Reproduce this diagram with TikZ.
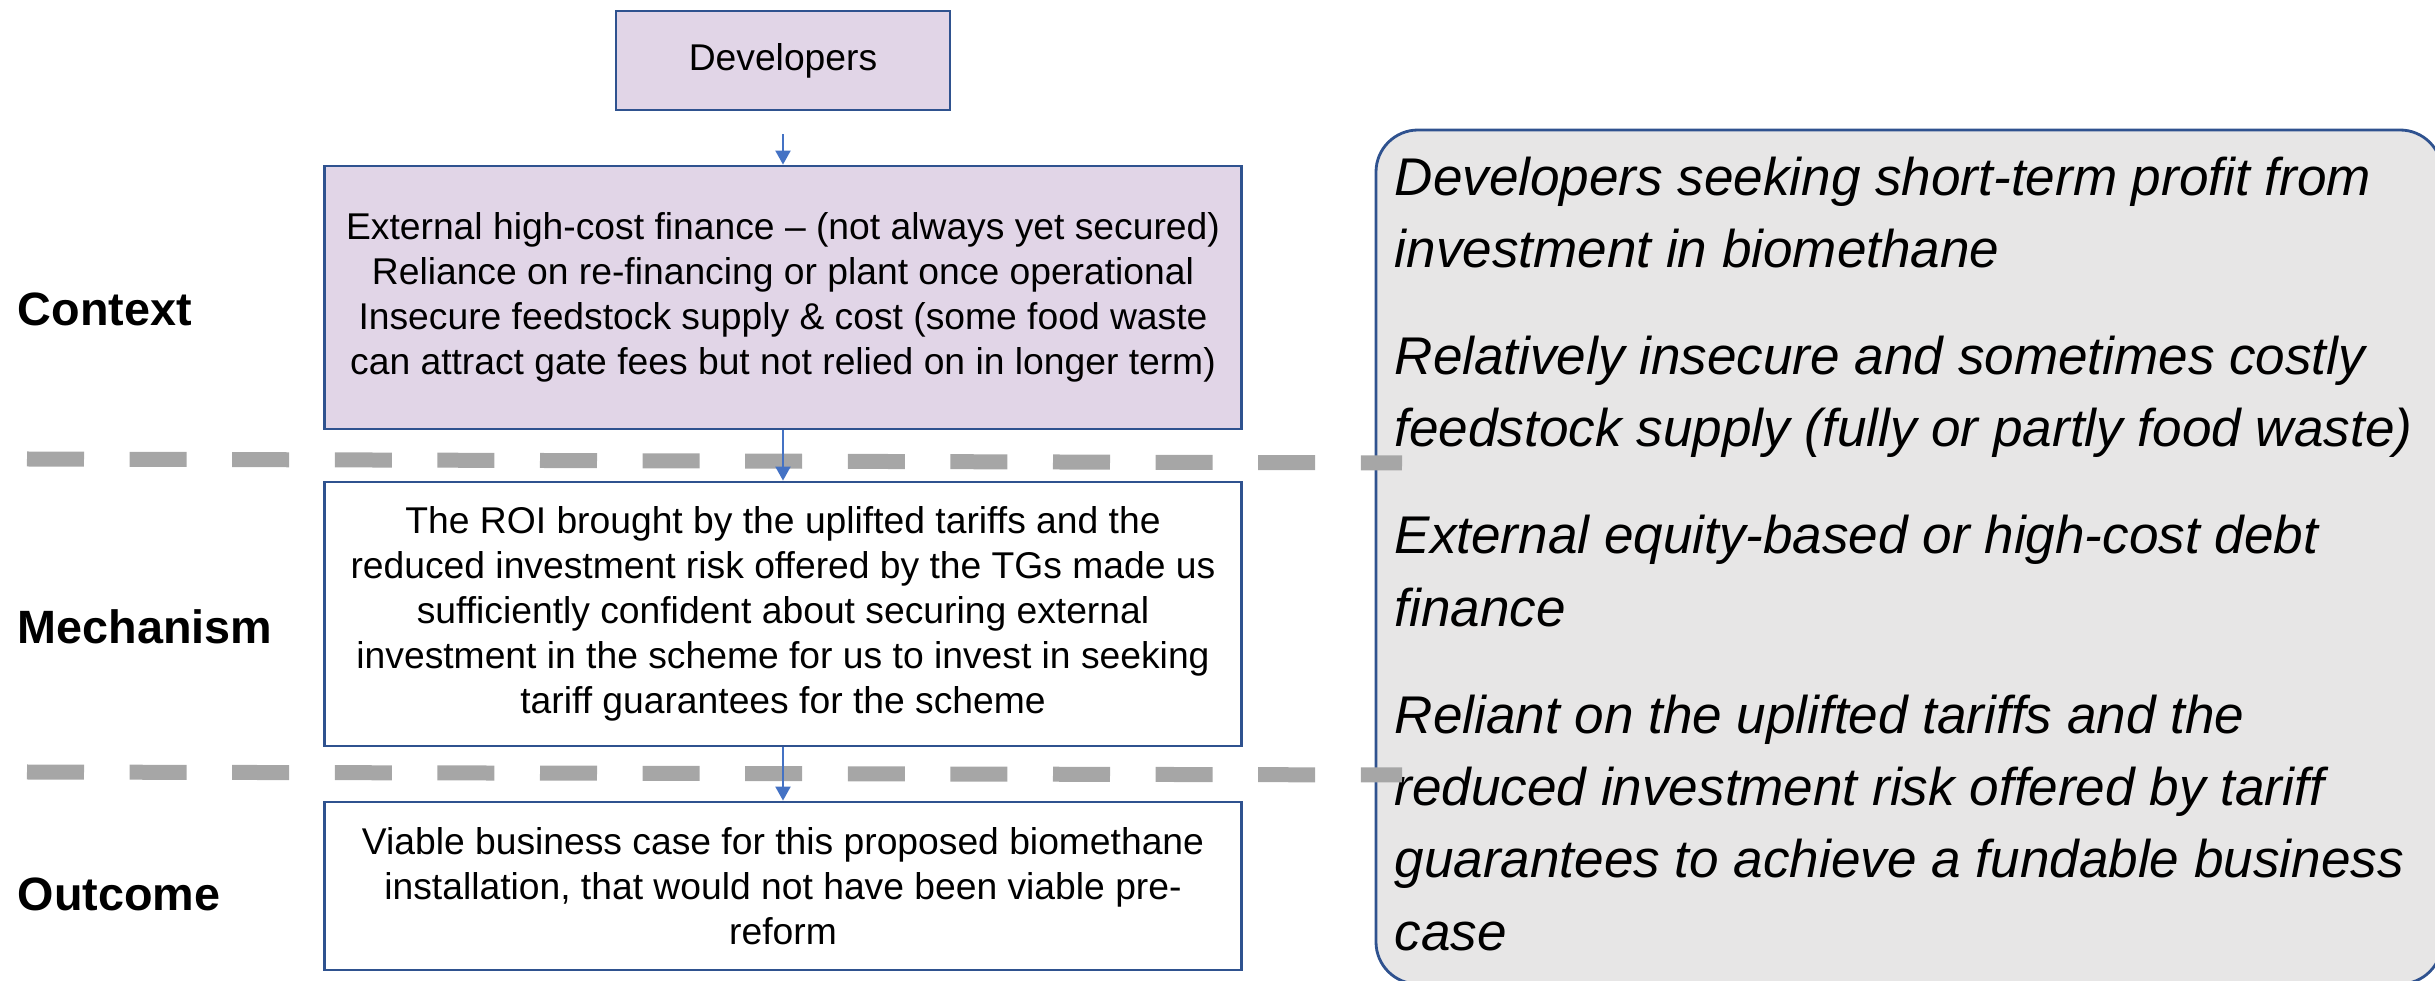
\documentclass[tikz,border=0pt]{standalone}
\usepackage{fontspec}
\setmainfont{Liberation Sans}
\usetikzlibrary{arrows.meta}
\definecolor{boxblue}{HTML}{2F528F}
\definecolor{arrowblue}{HTML}{4472C4}
\definecolor{lilac}{HTML}{E1D5E7}
\definecolor{panelgrey}{HTML}{E7E6E6}
\definecolor{dashgrey}{HTML}{A6A6A6}

\begin{document}
\begin{tikzpicture}[
    stagebox/.style={draw=boxblue, line width=0.8pt, minimum width=9.17cm, align=center,
      inner sep=0pt, font=\fontsize{10.6}{12.8}\selectfont},
    flowarrow/.style={arrowblue, line width=0.6pt, -{Triangle[width=1.5mm,length=1.4mm]}},
    rowlabel/.style={anchor=west, inner sep=0pt, font=\fontsize{13.3}{16}\selectfont\bfseries},
    divider/.style={dashgrey, line width=1.5mm, dash pattern=on 5.7mm off 4.56mm}
  ]
  \useasboundingbox (0,0) rectangle (24.35,9.81);
  \coordinate (TopL) at (0.27,5.22);
  \coordinate (TopR) at (14.02,5.18);
  \coordinate (LowL) at (0.27,2.09);
  \coordinate (LowR) at (14.02,2.06);

  % right hand panel (runs off the page at right and bottom)
  \draw [boxblue, fill=panelgrey, line width=0.8pt, rounded corners=4.2mm] (13.76,-0.03) rectangle (24.42,8.51);
  \node (notes) [anchor=north west, inner sep=0pt, align=left,
    font=\fontsize{15.1}{20.6}\selectfont\itshape] at (13.94,8.25)
    {Developers seeking short-term profit from\\
     investment in biomethane\\[3.45mm]
     Relatively insecure and sometimes costly\\
     feedstock supply (fully or partly food waste)\\[3.45mm]
     External equity-based or high-cost debt\\
     finance\\[3.45mm]
     Reliant on the uplifted tariffs and the\\
     reduced investment risk offered by tariff\\
     guarantees to achieve a fundable business\\
     case};

  % section dividers
  \draw [divider] (TopL) -- (TopR);
  \draw [divider] (LowL) -- (LowR);

  % flow
  \node (dev) [stagebox, fill=lilac, minimum width=3.34cm, minimum height=0.99cm] at (7.83,9.205) {Developers};
  \node (ctx) [stagebox, fill=lilac, minimum height=2.63cm] at (7.83,6.835)
    {External high-cost finance – (not always yet secured)\\
     Reliance on re-financing or plant once operational\\
     Insecure feedstock supply \& cost (some food waste\\
     can attract gate fees but not relied on in longer term)};
  \node (mech) [stagebox, fill=white, minimum height=2.64cm] at (7.83,3.67)
    {The ROI brought by the uplifted tariffs and the\\
     reduced investment risk offered by the TGs made us\\
     sufficiently confident about securing external\\
     investment in the scheme for us to invest in seeking\\
     tariff guarantees for the scheme};
  \node (outc) [stagebox, fill=white, minimum height=1.68cm] at (7.83,0.95)
    {Viable business case for this proposed biomethane\\
     installation, that would not have been viable pre-\\
     reform};

  \draw [flowarrow, shorten <=2.3mm] (dev) -- (ctx);
  \draw [flowarrow] (ctx) -- (mech);
  \draw [flowarrow] (mech) -- (outc);

  % row labels
  \node (lblctx) [rowlabel] at (0.17,6.72) {Context};
  \node (lblmech) [rowlabel] at (0.17,3.54) {Mechanism};
  \node (lbloutc) [rowlabel] at (0.17,0.87) {Outcome};
\end{tikzpicture}
\end{document}
